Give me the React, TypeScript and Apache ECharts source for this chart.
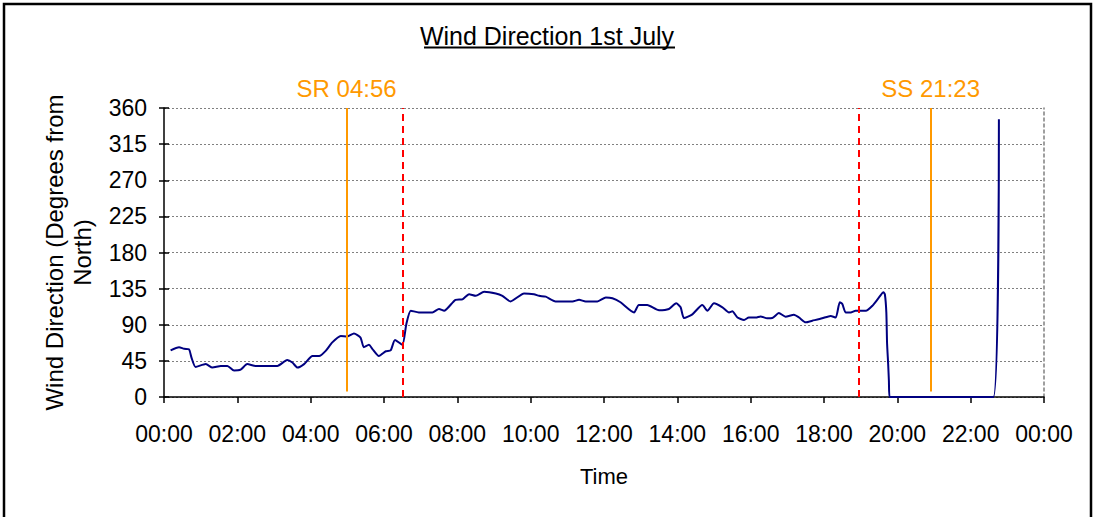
import React, { useEffect, useRef } from "react";
import * as echarts from "echarts";

const TITLE = "Wind Direction 1st July";
const Y_NAME = "Wind Direction (Degrees from\nNorth)";
const X_NAME = "Time";

const hours: number[] = [
  0.18, 0.41, 0.55, 0.68, 0.75, 0.86, 1.14, 1.32, 1.55, 1.73, 1.91, 2.09, 2.27, 2.5, 3.09,
  3.36, 3.5, 3.64, 3.82, 4.05, 4.23, 4.41, 4.59, 4.82, 5.0, 5.18, 5.36, 5.45, 5.59, 5.68,
  5.86, 6.05, 6.18, 6.3, 6.5, 6.61, 6.73, 6.95, 7.32, 7.5, 7.64, 7.95, 8.14, 8.32, 8.5,
  8.73, 9.05, 9.23, 9.45, 9.82, 10.09, 10.23, 10.41, 10.68, 11.14, 11.32, 11.5, 11.82,
  12.05, 12.23, 12.45, 12.82, 12.95, 13.18, 13.5, 13.77, 13.97, 14.09, 14.18, 14.41,
  14.68, 14.82, 15.0, 15.23, 15.41, 15.5, 15.64, 15.82, 15.95, 16.14, 16.27, 16.45,
  16.59, 16.77, 16.95, 17.18, 17.32, 17.5, 17.68, 17.95, 18.18, 18.32, 18.43, 18.5,
  18.59, 18.73, 18.86, 19.14, 19.32, 19.5, 19.62, 19.66, 19.7, 19.72, 19.75, 19.77,
  19.79, 22.62, 22.77,
];
const directions: number[] = [
  58, 62, 60, 59.5, 49, 37.5, 41, 36.7, 38.7, 38.7, 33, 34, 41, 38.7, 38.7,
  46, 43, 36.7, 41, 51, 51, 57.5, 68, 76, 75.4, 79, 74, 62, 65, 60,
  51, 57, 58, 71, 65, 91, 107.5, 105.4, 105.4, 109.6, 107.5, 121, 121.7, 128, 126,
  131, 129, 126, 119, 129, 128, 126, 125, 119, 119, 121, 119, 119,
  124, 123, 118, 105.4, 114.6, 114.6, 108, 109.6, 116.7, 111.7, 98.3, 103,
  114.6, 107.5, 116.7, 111.7, 105.4, 106.7, 99, 96, 99, 99, 100.4, 98,
  98.3, 104.6, 100, 102.5, 99, 93, 95, 98, 101, 99, 118, 115.8,
  105.4, 105.4, 107.5, 107.5, 113.7, 124, 130.4, 128, 105.4, 67, 41, 20,
  0, 0, 346,
];

const yTicks: number[] = [0, 45, 90, 135, 180, 225, 270, 315, 360];
const SUNRISE_HOUR = 4.98;
const SUNRISE_LABEL = "SR 04:56";
const SUNSET_HOUR = 20.91;
const SUNSET_LABEL = "SS 21:23";
const MARK_HOURS: number[] = [6.52, 18.96];

const fmtHour = (h: number) => {
  const v = Math.round(h) % 24;
  return (v < 10 ? "0" : "") + v + ":00";
};

export default function App() {
  const ref = useRef<HTMLDivElement>(null);
  useEffect(() => {
    if (!ref.current) return;
    const chart = echarts.init(ref.current, null, { renderer: "svg" });
    const font = "Liberation Sans, Arial, sans-serif";
    const sunLine = (h: number, text: string) => [
      {
        coord: [h, 7],
        lineStyle: { color: "#FF9900", type: "solid", width: 2 },
        label: {
          show: true,
          position: "end",
          formatter: text,
          color: "#FF9900",
          fontSize: 24,
          fontFamily: font,
          distance: 8,
        },
      },
      { coord: [h, 360] },
    ];
    const redLine = (h: number) => [
      {
        coord: [h, 0],
        lineStyle: { color: "#FF0000", type: [7, 5], width: 2 },
        label: { show: false },
      },
      { coord: [h, 360] },
    ];
    chart.setOption({
      animation: false,
      backgroundColor: "#ffffff",
      textStyle: { fontFamily: font },
      title: {
        text: TITLE,
        left: "center",
        top: 18,
        textStyle: { fontSize: 25, fontWeight: "normal", color: "#000", fontFamily: font },
      },
      graphic: [
        {
          type: "rect",
          shape: { x: 4, y: 4, width: 1087, height: 600 },
          style: { fill: "none", stroke: "#000", lineWidth: 2.5 },
          silent: true,
        },
        {
          type: "line",
          shape: { x1: 424, y1: 47.5, x2: 675, y2: 47.5 },
          style: { stroke: "#000", lineWidth: 2 },
          silent: true,
        },
      ],
      grid: { left: 164, right: 50, top: 108, bottom: 120, containLabel: false },
      xAxis: {
        type: "value",
        min: 0,
        max: 24,
        interval: 2,
        name: X_NAME,
        nameLocation: "middle",
        nameGap: 68,
        nameTextStyle: { fontSize: 22, color: "#000", fontFamily: font },
        axisLine: { lineStyle: { color: "#000", width: 1.5 } },
        axisTick: { show: true, length: 6, lineStyle: { color: "#000", width: 1.5 } },
        axisLabel: {
          formatter: fmtHour,
          fontSize: 23,
          color: "#000",
          margin: 25,
          fontFamily: font,
        },
        splitLine: { show: false },
      },
      yAxis: [
        {
          type: "value",
          min: 0,
          max: 360,
          interval: 45,
          name: Y_NAME,
          nameLocation: "middle",
          nameGap: 68,
          nameRotate: 90,
          nameTextStyle: { fontSize: 24, color: "#000", lineHeight: 28, fontFamily: font },
          axisLine: { show: true, lineStyle: { color: "#000", width: 1.5 } },
          axisTick: { show: true, length: 5, lineStyle: { color: "#000", width: 1.5 } },
          axisLabel: {
            fontSize: 23,
            color: "#000",
            margin: 17,
            fontFamily: font,
            formatter: (v: number) => (yTicks.includes(v) ? String(v) : ""),
          },
          splitLine: { show: true, lineStyle: { color: "#808080", type: [2, 2], width: 1 } },
        },
        {
          type: "value",
          min: 0,
          max: 360,
          interval: 45,
          position: "left",
          axisLine: { show: false },
          axisTick: { show: true, inside: true, length: 5, lineStyle: { color: "#000", width: 1.5 } },
          axisLabel: { show: false },
          splitLine: { show: false },
        },
        {
          type: "value",
          min: 0,
          max: 360,
          interval: 45,
          position: "right",
          axisLine: { show: true, lineStyle: { color: "#808080", type: [3, 3], width: 1.5 } },
          axisTick: { show: false },
          axisLabel: { show: false },
          splitLine: { show: false },
        },
      ],
      series: [
        {
          type: "line",
          data: hours.map((h, i) => [h, directions[i]]),
          showSymbol: false,
          symbol: "none",
          smooth: 0.2,
          lineStyle: { color: "#000080", width: 2 },
          z: 3,
          markLine: {
            silent: true,
            symbol: "none",
            animation: false,
            data: [
              sunLine(SUNRISE_HOUR, SUNRISE_LABEL),
              sunLine(SUNSET_HOUR, SUNSET_LABEL),
              ...MARK_HOURS.map(redLine),
            ],
          },
        },
      ],
    });
    return () => chart.dispose();
  }, []);
  return (
    <div
      ref={ref}
      style={{ position: "absolute", left: 0, top: 0, width: 1094, height: 517 }}
    />
  );
}
